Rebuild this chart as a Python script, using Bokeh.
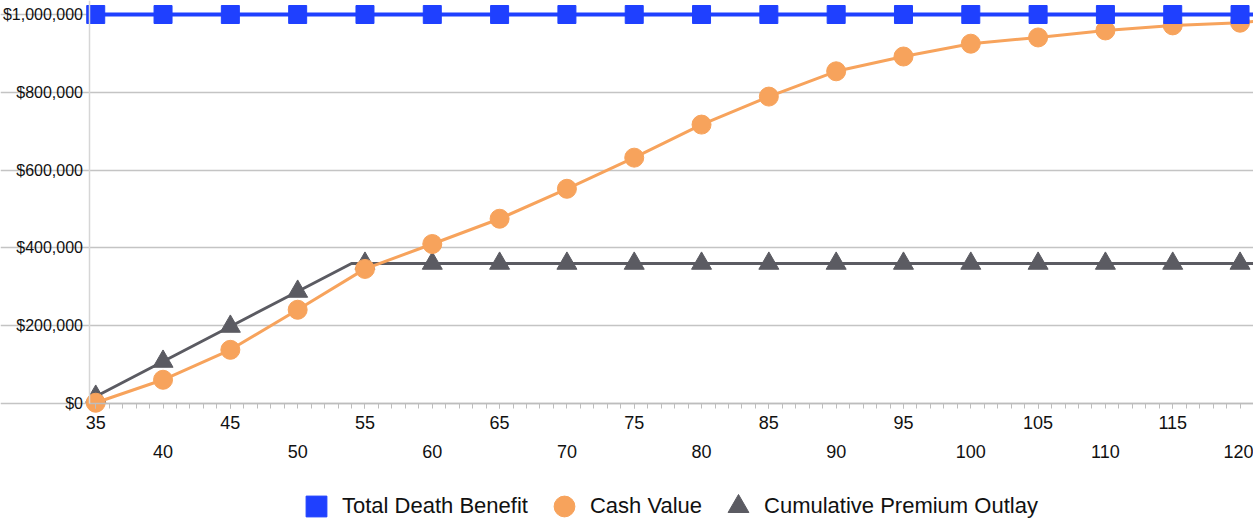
from bokeh.plotting import figure
from bokeh.models import (Range1d, LinearAxis, FixedTicker, NumeralTickFormatter,
                          Legend, LegendItem)
from bokeh.embed import file_html
from bokeh.resources import INLINE

# ---- data ----
ages = [35, 40, 45, 50, 55, 60, 65, 70, 75, 80, 85, 90, 95, 100, 105, 110, 115, 120]
death_benefit = [1000000] * 18
cash_value = [2000, 61000, 138000, 241000, 346000, 410000, 475000, 552000, 632000,
              717000, 789000, 854000, 892000, 925000, 941000, 959000, 972000, 979000]
premium_outlay = [18000, 108000, 198000, 288000, 360000, 360000, 360000, 360000, 360000,
                  360000, 360000, 360000, 360000, 360000, 360000, 360000, 360000, 360000]

# line paths (premium payments end at age 54; series run on to age 121)
line_ages = ages + [121]
death_line = death_benefit + [1000000]
cash_line = cash_value + [982000]
premium_line_ages = [35, 40, 45, 50, 54] + ages[4:] + [121]
premium_line = [18000, 108000, 198000, 288000, 360000] + premium_outlay[4:] + [360000]

top_row_ticks = [35, 45, 55, 65, 75, 85, 95, 105, 115]
bottom_row_ticks = [40, 50, 60, 70, 80, 90, 100, 110, 120]
y_ticks = [0, 200000, 400000, 600000, 800000, 1000000]
legend_labels = ["Total Death Benefit", "Cash Value", "Cumulative Premium Outlay"]

BLUE = "#1f40ff"
ORANGE = "#f7a35c"
GREY = "#5b5b62"
FONT = "Liberation Sans"

W, H = 1253, 521
AXIS_PX_X, AXIS_PX_Y = 88.5, 403          # pixel position of the value/age axes
X_MIN, X_MAX = 34.5, 121.0                 # visible age span of the plot area
px_per_year = (W - AXIS_PX_X) / (X_MAX - X_MIN)
X_START = X_MIN - AXIS_PX_X / px_per_year
Y_TOP = 1036000
Y_BOTTOM = -Y_TOP * (H - AXIS_PX_Y) / AXIS_PX_Y

p = figure(width=W, height=H, output_backend="svg", toolbar_location=None,
           x_range=Range1d(X_START, X_MAX), y_range=Range1d(Y_BOTTOM, Y_TOP),
           min_border_left=0, min_border_right=0, min_border_top=0, min_border_bottom=0,
           x_axis_location=None)
p.outline_line_color = None
p.xgrid.visible = False
p.ygrid.grid_line_color = "#c4c4c4"
p.ygrid.grid_line_width = 1.5
p.ygrid.ticker = FixedTicker(ticks=y_ticks)
p.ygrid.bounds = (X_MIN, X_MAX)

# y axis
ya = p.yaxis[0]
ya.fixed_location = X_MIN
ya.ticker = FixedTicker(ticks=y_ticks)
ya.bounds = (0, Y_TOP)
ya.formatter = NumeralTickFormatter(format="$0,0")
ya.major_tick_out = 0
ya.major_tick_in = 0
ya.minor_tick_line_color = None
ya.axis_line_color = "#d6d6d6"
ya.axis_line_width = 1.5
ya.major_label_text_font = FONT
ya.major_label_text_font_size = "16px"
ya.major_label_text_color = "#111111"
ya.major_label_text_baseline = "top"
ya.major_label_standoff = 6

# x axis, first row of labels
xa1 = LinearAxis(ticker=FixedTicker(ticks=top_row_ticks, minor_ticks=list(range(35, 122))),
                 fixed_location=0, bounds=(X_MIN, X_MAX))
xa1.axis_line_color = "#bdbdbd"
xa1.axis_line_width = 1.5
xa1.major_tick_line_color = "#bdbdbd"
xa1.minor_tick_line_color = "#bdbdbd"
xa1.major_tick_out = 5
xa1.major_tick_in = 0
xa1.minor_tick_out = 5
xa1.minor_tick_in = 0
xa1.major_label_text_font = FONT
xa1.major_label_text_font_size = "18px"
xa1.major_label_text_color = "#111111"
xa1.major_label_standoff = 7
p.add_layout(xa1, "below")

# x axis, second row of labels
xa2 = LinearAxis(ticker=FixedTicker(ticks=bottom_row_ticks, minor_ticks=[]),
                 fixed_location=0, bounds=(X_MIN, X_MAX))
xa2.axis_line_color = None
xa2.major_tick_line_color = None
xa2.minor_tick_line_color = None
xa2.major_tick_out = 0
xa2.major_tick_in = 0
xa2.major_label_text_font = FONT
xa2.major_label_text_font_size = "18px"
xa2.major_label_text_color = "#111111"
xa2.major_label_standoff = 41
p.add_layout(xa2, "below")

# series
p.line(premium_line_ages, premium_line, line_color=GREY, line_width=3)
tri = p.scatter(ages, premium_outlay, marker="triangle", size=20, fill_color=GREY, line_color=GREY)
p.line(line_ages, cash_line, line_color=ORANGE, line_width=3)
cir = p.scatter(ages, cash_value, marker="circle", size=19, fill_color=ORANGE, line_color=ORANGE)
p.line(line_ages, death_line, line_color=BLUE, line_width=4)
sq = p.scatter(ages, death_benefit, marker="square", size=18, fill_color=BLUE, line_color=BLUE)

legend = Legend(items=[LegendItem(label=legend_labels[0], renderers=[sq]),
                       LegendItem(label=legend_labels[1], renderers=[cir]),
                       LegendItem(label=legend_labels[2], renderers=[tri])],
                orientation="horizontal", location=(290, -11),
                glyph_width=52, glyph_height=52, label_standoff=0, spacing=10,
                padding=0, margin=0, border_line_color=None, background_fill_alpha=0,
                label_text_font=FONT, label_text_font_size="22px", label_text_color="#111111")
p.add_layout(legend, "center")

open("out.html", "w").write(file_html(p, INLINE))
